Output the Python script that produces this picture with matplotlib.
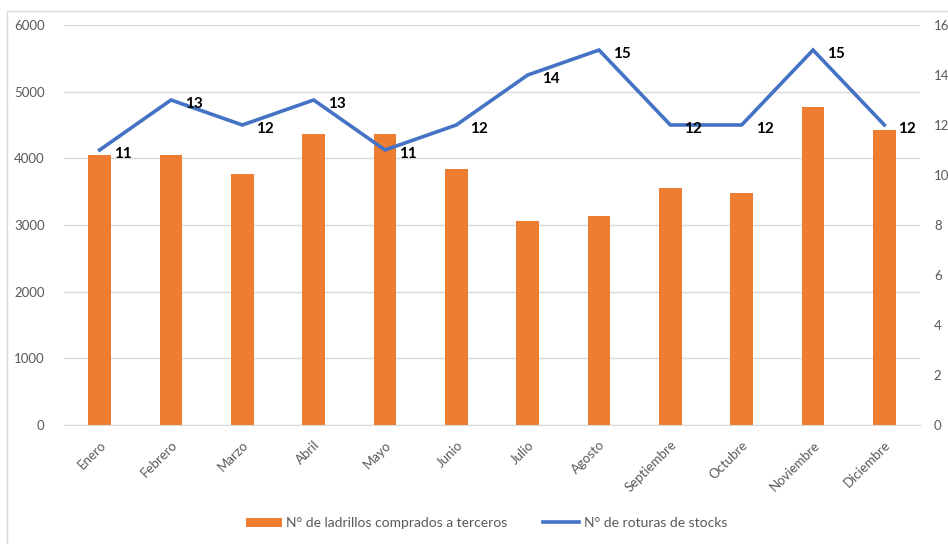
import matplotlib.pyplot as plt
from matplotlib.patches import Rectangle

plt.rcParams['font.family'] = ['Lato', 'DejaVu Sans']

meses = ['Enero', 'Febrero', 'Marzo', 'Abril', 'Mayo', 'Junio', 'Julio',
         'Agosto', 'Septiembre', 'Octubre', 'Noviembre', 'Diciembre']
ladrillos = [4050, 4050, 3765, 4365, 4365, 3835, 3065, 3135, 3555, 3480, 4770, 4425]
roturas = [11, 13, 12, 13, 11, 12, 14, 15, 12, 12, 15, 12]

naranja = '#ED7D31'
azul = '#4472C4'
gris = '#595959'

fig = plt.figure(figsize=(9.48, 5.44), dpi=100)
ax = fig.add_axes([0.0675, 0.219, 0.903, 0.735])
ax2 = ax.twinx()

x = range(len(meses))
barras = ax.bar(x, ladrillos, width=0.32, color=naranja, zorder=2,
                label='N° de ladrillos comprados a terceros')
linea, = ax2.plot(x, roturas, color=azul, linewidth=2.6, zorder=3,
                  solid_joinstyle='miter', label='N° de roturas de stocks')
for xi, v in zip(x, roturas):
    ax2.annotate(str(v), (xi, v), xytext=(10, -3), textcoords='offset points',
                 ha='left', va='center', fontsize=11, fontweight='bold',
                 color='black')

ax.set_xlim(-0.5, len(meses) - 0.5)
ax.set_ylim(0, 6000)
ax.set_yticks(range(0, 6001, 1000))
ax2.set_ylim(0, 16)
ax2.set_yticks(range(0, 17, 2))

ax.grid(axis='y', color='#D9D9D9', linewidth=1, zorder=0)
ax.set_axisbelow(True)
ax.set_xticks(list(x))
ax.set_xticklabels(meses, rotation=45, ha='right', rotation_mode='anchor')

for a in (ax, ax2):
    for s in a.spines.values():
        s.set_visible(False)
    a.tick_params(length=0, labelsize=9.5, labelcolor=gris)
ax.spines['bottom'].set_visible(True)
ax.spines['bottom'].set_color('#D9D9D9')
ax.tick_params(axis='x', pad=10)
ax.tick_params(axis='y', pad=14)
ax2.tick_params(axis='y', pad=10)
ax.set_zorder(ax2.get_zorder() - 1)
ax.patch.set_visible(False)

fig.legend([barras, linea], [barras.get_label(), linea.get_label()],
           loc='center', bbox_to_anchor=(0.513, 0.038), ncol=2, frameon=False,
           fontsize=10, labelcolor=gris, handlelength=2.6, columnspacing=2.6,
           handletextpad=0.3)

# marco del gráfico
fig.patches.append(Rectangle((7 / 948, -0.1), 1.2, 1 - 11 / 544 + 0.1,
                             transform=fig.transFigure, fill=False,
                             edgecolor='#D9D9D9', linewidth=1))

fig.savefig('out.png', dpi=100)
